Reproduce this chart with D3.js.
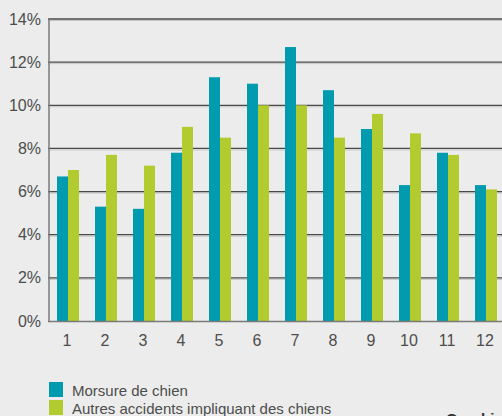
<!DOCTYPE html>
<html>
<head>
<meta charset="utf-8">
<script src="https://cdn.jsdelivr.net/npm/d3@7"></script>
<style>
  html, body { margin: 0; padding: 0; background: #ebeceb; overflow: hidden; }
  svg { display: block; font-family: "Liberation Sans", Arial, sans-serif; }
</style>
</head>
<body>
<svg id="chart" width="502" height="416"></svg>
<script>
"use strict";

var months = ["1", "2", "3", "4", "5", "6", "7", "8", "9", "10", "11", "12"];
var morsure = [6.7, 5.3, 5.2, 7.8, 11.3, 11.0, 12.7, 10.7, 8.9, 6.3, 7.8, 6.3];
var autres = [7.0, 7.7, 7.2, 9.0, 8.5, 10.0, 10.0, 8.5, 9.6, 8.7, 7.7, 6.1];
var yTicks = [0, 2, 4, 6, 8, 10, 12, 14];
var seriesNames = ["Morsure de chien", "Autres accidents impliquant des chiens"];
var colors = ["#009bae", "#b2cb2e"];

var svg = d3.select("#chart");

var plotLeft = 48, plotRight = 504, plotTop = 19, plotBottom = 321;

//Scales
var x = d3.scaleBand().domain(months).range([plotLeft, plotRight]);
var y = d3.scaleLinear().domain([0, 14]).range([plotBottom, plotTop]);

//Gridlines (dark line with a light line under it)
var grid = svg.append("g").attr("class", "grid");
grid.selectAll("line.light").data(yTicks.slice(1)).enter().append("line")
  .attr("class", "light")
  .attr("x1", plotLeft).attr("x2", 502)
  .attr("y1", function (d) { return y(d) + 1.5; })
  .attr("y2", function (d) { return y(d) + 1.5; })
  .attr("stroke", "#c4c5c4").attr("stroke-width", 1);
grid.selectAll("line.dark").data(yTicks.slice(1)).enter().append("line")
  .attr("class", "dark")
  .attr("x1", plotLeft).attr("x2", 502)
  .attr("y1", function (d) { return y(d); })
  .attr("y2", function (d) { return y(d); })
  .attr("stroke", "#4a4a4a").attr("stroke-width", 1.3);

//Bars
var barW = 11;
var data = [morsure, autres];
data.forEach(function (vals, s) {
  svg.append("g").selectAll("rect").data(vals).enter().append("rect")
    .attr("x", function (d, i) { return x(months[i]) + x.bandwidth() / 2 - barW + s * barW + 1; })
    .attr("y", function (d) { return y(d); })
    .attr("width", barW)
    .attr("height", function (d) { return plotBottom - y(d); })
    .attr("fill", colors[s]);
});

//Axes lines
svg.append("line").attr("x1", plotLeft).attr("x2", 502).attr("y1", plotBottom + 0.5).attr("y2", plotBottom + 0.5)
  .attr("stroke", "#7a7a7a").attr("stroke-width", 1.5);
svg.append("line").attr("x1", plotLeft + 1).attr("x2", plotLeft + 1).attr("y1", plotTop - 1).attr("y2", plotBottom + 1)
  .attr("stroke", "#7a7a7a").attr("stroke-width", 1.5);

//Y tick labels
svg.append("g").selectAll("text").data(yTicks).enter().append("text")
  .attr("x", 41)
  .attr("y", function (d) { return y(d) + 5.5; })
  .attr("text-anchor", "end")
  .attr("font-size", 16)
  .attr("fill", "#4d4d4d")
  .text(function (d) { return d + "%"; });

//X tick labels
svg.append("g").selectAll("text").data(months).enter().append("text")
  .attr("x", function (d) { return x(d) + x.bandwidth() / 2; })
  .attr("y", 346)
  .attr("text-anchor", "middle")
  .attr("font-size", 16)
  .attr("fill", "#4d4d4d")
  .text(function (d) { return d; });

//Legend
var legend = svg.append("g").selectAll("g").data(seriesNames).enter().append("g")
  .attr("transform", function (d, i) { return "translate(49," + (382 + i * 18) + ")"; });
legend.append("rect").attr("width", 14).attr("height", 15)
  .attr("fill", function (d, i) { return colors[i]; });
legend.append("text").attr("x", 23).attr("y", 14)
  .attr("font-size", 15)
  .attr("fill", "#4d4d4d")
  .text(function (d) { return d; });

//Caption cut at the bottom edge
svg.append("text").attr("x", 446).attr("y", 424)
  .attr("font-size", 15).attr("font-weight", "bold").attr("fill", "#333")
  .text("Graphique");
</script>
</body>
</html>
